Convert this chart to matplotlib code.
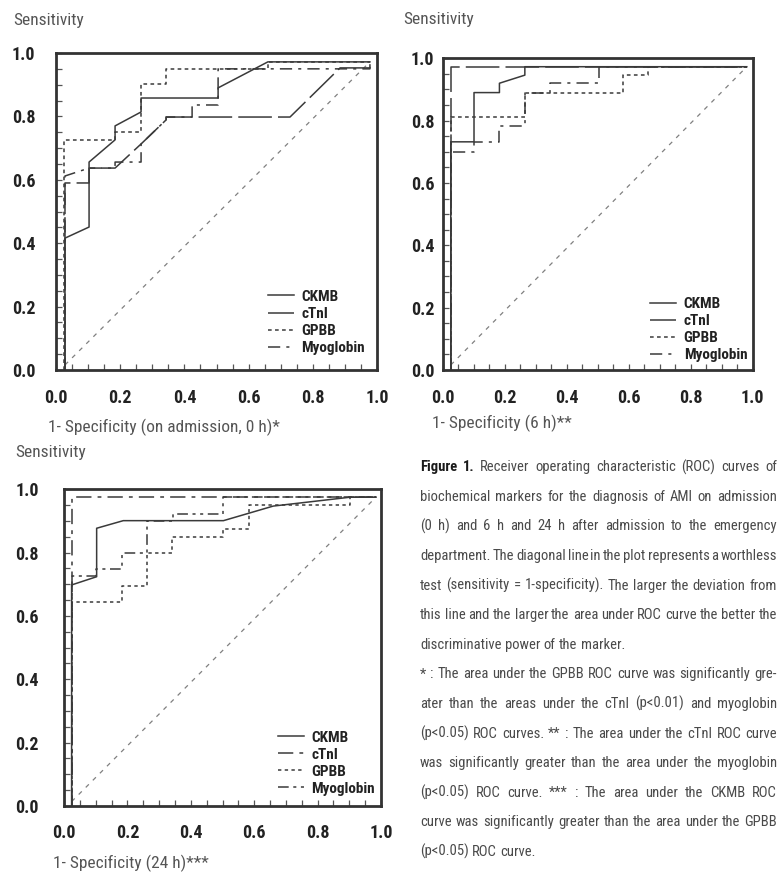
import numpy as np
import matplotlib
matplotlib.use('Agg')
import matplotlib.pyplot as plt
from matplotlib import font_manager

# pick a narrow font if one is installed
_names = {f.name for f in font_manager.fontManager.ttflist}
_cands = ['Liberation Sans Narrow', 'DejaVu Sans Condensed', 'Noto Sans Condensed', 'Roboto Condensed']
NARROW = next((c for c in _cands if c in _names), 'DejaVu Sans')
plt.rcParams['font.family'] = [NARROW, 'DejaVu Sans']
plt.rcParams['font.stretch'] = 'condensed'

# ---- data: 1-specificity (x) and sensitivity (y) ----
# on admission (0 h)
ckmb0_x = [0.028, 0.028, 0.103, 0.103, 0.184, 0.184, 0.265, 0.265, 0.505, 0.505, 0.660, 0.978]
ckmb0_y = [0.0, 0.416, 0.451, 0.656, 0.726, 0.770, 0.814, 0.858, 0.858, 0.890, 0.972, 0.972]
ctni0_x = [0.028, 0.028, 0.103, 0.103, 0.184, 0.265, 0.343, 0.343, 0.729, 0.885, 0.978, 0.978]
ctni0_y = [0.0, 0.590, 0.590, 0.637, 0.637, 0.713, 0.789, 0.798, 0.798, 0.953, 0.953, 0.972]
gpbb0_x = [0.025, 0.025, 0.184, 0.184, 0.265, 0.265, 0.343, 0.343, 0.660, 0.660, 0.978]
gpbb0_y = [0.0, 0.726, 0.726, 0.751, 0.751, 0.902, 0.902, 0.950, 0.950, 0.972, 0.972]
myo0_x = [0.028, 0.028, 0.103, 0.184, 0.184, 0.265, 0.265, 0.343, 0.343, 0.424, 0.424, 0.505, 0.505, 0.978, 0.978]
myo0_y = [0.0, 0.612, 0.637, 0.637, 0.656, 0.656, 0.713, 0.789, 0.798, 0.798, 0.836, 0.836, 0.950, 0.950, 0.972]
diag0_x = [0.028, 0.978]
diag0_y = [0.016, 0.972]

# 6 h
ckmb6_x = [0.026, 0.026, 0.101, 0.101, 0.183, 0.183, 0.265, 0.265, 0.981]
ckmb6_y = [0.0, 0.732, 0.732, 0.890, 0.890, 0.920, 0.946, 0.973, 0.973]
ctni6_x = [0.026, 0.026, 0.981]
ctni6_y = [0.0, 0.973, 0.973]
gpbb6_x = [0.026, 0.026, 0.265, 0.265, 0.581, 0.581, 0.663, 0.663, 0.981]
gpbb6_y = [0.0, 0.813, 0.813, 0.890, 0.890, 0.946, 0.946, 0.973, 0.973]
myo6_x = [0.026, 0.026, 0.101, 0.101, 0.183, 0.183, 0.265, 0.265, 0.346, 0.346, 0.505, 0.505, 0.981]
myo6_y = [0.0, 0.700, 0.700, 0.732, 0.732, 0.783, 0.783, 0.890, 0.890, 0.920, 0.920, 0.973, 0.973]
diag6_x = [0.026, 0.981]
diag6_y = [0.016, 0.973]

# 24 h
ckmb24_x = [0.024, 0.024, 0.103, 0.103, 0.187, 0.503, 0.660, 0.902, 0.984]
ckmb24_y = [0.0, 0.698, 0.724, 0.877, 0.901, 0.901, 0.947, 0.975, 0.975]
ctni24_x = [0.024, 0.024, 0.984]
ctni24_y = [0.0, 0.975, 0.975]
gpbb24_x = [0.024, 0.024, 0.182, 0.182, 0.263, 0.263, 0.340, 0.340, 0.503, 0.503, 0.585, 0.585, 0.902, 0.902, 0.984]
gpbb24_y = [0.0, 0.645, 0.645, 0.695, 0.695, 0.798, 0.798, 0.848, 0.848, 0.874, 0.874, 0.950, 0.950, 0.975, 0.975]
myo24_x = [0.024, 0.024, 0.101, 0.101, 0.182, 0.182, 0.263, 0.263, 0.345, 0.345, 0.503, 0.503, 0.984]
myo24_y = [0.0, 0.726, 0.726, 0.747, 0.747, 0.798, 0.798, 0.901, 0.901, 0.922, 0.922, 0.975, 0.975]
diag24_x = [0.024, 0.986]
diag24_y = [0.014, 0.977]

markers = ['CKMB', 'cTnI', 'GPBB', 'Myoglobin']
tick_vals = [0.0, 0.2, 0.4, 0.6, 0.8, 1.0]
tick_labels = ['0.0', '0.2', '0.4', '0.6', '0.8', '1.0']

caption_lines = [
    "Figure 1. Receiver operating characteristic (ROC) curves of",
    "biochemical markers for the diagnosis of AMI on admission",
    "(0 h) and 6 h and 24 h after admission to the emergency",
    "department. The diagonal line in the plot represents a worthless",
    "test (sensitivity = 1-specificity). The larger the deviation from",
    "this line and the larger the area under ROC curve the better the",
    "discriminative power of the marker.",
    "* : The area under the GPBB ROC curve was significantly gre-",
    "ater than the areas under the cTnI (p<0.01) and myoglobin",
    "(p<0.05) ROC curves. ** : The area under the cTnI ROC curve",
    "was significantly greater than the area under the myoglobin",
    "(p<0.05) ROC curve. *** : The area under the CKMB ROC",
    "curve was significantly greater than the area under the GPBB",
    "(p<0.05) ROC curve.",
]
last_lines = {6, 13}

# ---- figure ----
W, H = 781, 873
fig = plt.figure(figsize=(W / 100, H / 100), dpi=100)
LINE = '#3a3a3a'


def px_axes(l, t, r, b):
    return fig.add_axes([l / W, 1 - b / H, (r - l) / W, (b - t) / H])


styles_a = ['-', (0, (22, 4)), (0, (2.4, 2.2)), (0, (8, 4, 2, 4))]
styles_b = ['-', (0, (10, 4, 2.5, 4)), (0, (2.2, 2.2)), (0, (7, 3, 2, 3, 2, 3))]


def draw_panel(ax, curves, diag, styles, xpad, ypad, leg_xy, ylab_xy, xlab, xlab_xy):
    ax.plot(diag[0], diag[1], color='#808080', lw=0.9, ls=(0, (3.5, 4.5)))
    for (cx, cy), name, ls in zip(curves, markers, styles):
        ax.plot(cx, cy, color=LINE, lw=1.1, ls=ls, label=name)
    ax.set_xlim(0, 1)
    ax.set_ylim(0, 1)
    ax.set_xticks(tick_vals, labels=tick_labels, fontsize=13, fontweight='bold', color='#222222')
    ax.set_yticks(tick_vals, labels=tick_labels, fontsize=13, fontweight='bold', color='#222222')
    ax.set_xticks(np.arange(0, 1.001, 0.05), minor=True)
    ax.set_yticks(np.arange(0, 1.001, 0.05), minor=True)
    ax.tick_params(which='both', direction='in', length=4, width=0.9, color='#555555')
    ax.tick_params(axis='x', which='major', pad=xpad)
    ax.tick_params(axis='y', which='major', pad=ypad)
    for s in ax.spines.values():
        s.set_linewidth(2.0)
        s.set_color('#333333')
    leg = ax.legend(loc='upper left', bbox_to_anchor=leg_xy, frameon=False,
                    handlelength=1.7, handletextpad=0.5, labelspacing=0.2,
                    borderpad=0, borderaxespad=0,
                    prop={'weight': 'bold', 'size': 11})
    for t in leg.get_texts():
        t.set_color('#222222')
    ax.text(ylab_xy[0], ylab_xy[1], 'Sensitivity', transform=ax.transAxes,
            ha='left', va='center', fontsize=12.5, color='#555555')
    ax.text(xlab_xy[0], xlab_xy[1], xlab, transform=ax.transAxes,
            ha='left', va='center', fontsize=12.5, color='#555555')


ax0 = px_axes(56, 53, 377, 370)
draw_panel(ax0, [(ckmb0_x, ckmb0_y), (ctni0_x, ctni0_y), (gpbb0_x, gpbb0_y), (myo0_x, myo0_y)],
           (diag0_x, diag0_y), styles_a, 14, 15, (0.66, 0.253), (-0.134, 1.104),
           '1- Specificity (on admission, 0 h)*', (-0.025, -0.18))

ax6 = px_axes(442.7, 58.3, 752.7, 370)
draw_panel(ax6, [(ckmb6_x, ckmb6_y), (ctni6_x, ctni6_y), (gpbb6_x, gpbb6_y), (myo6_x, myo6_y)],
           (diag6_x, diag6_y), styles_a, 14, 6, (0.669, 0.234), (-0.128, 1.123),
           '1- Specificity (6 h)**', (-0.035, -0.17))

ax24 = px_axes(64, 489.3, 381, 806)
draw_panel(ax24, [(ckmb24_x, ckmb24_y), (ctni24_x, ctni24_y), (gpbb24_x, gpbb24_y), (myo24_x, myo24_y)],
           (diag24_x, diag24_y), styles_b, 13, 18, (0.675, 0.238), (-0.155, 1.115),
           '1- Specificity (24 h)***', (-0.035, -0.18))

# ---- justified caption on the right ----
CAP_L, CAP_R = 420, 777
CAP_Y0, CAP_DY = 466.7, 29.6
renderer = fig.canvas.get_renderer()


def weight_of(i, j):
    return 'bold' if (i == 0 and j < 2) else 'normal'


def measure(size):
    out = []
    for i, line in enumerate(caption_lines):
        ws = []
        for j, w in enumerate(line.split()):
            t = fig.text(0, 0, w, fontsize=size, fontweight=weight_of(i, j))
            ws.append(t.get_window_extent(renderer).width)
            t.remove()
        out.append(ws)
    a = fig.text(0, 0, 'x x', fontsize=size)
    b = fig.text(0, 0, 'xx', fontsize=size)
    sp = a.get_window_extent(renderer).width - b.get_window_extent(renderer).width
    a.remove()
    b.remove()
    return out, sp


base = 11.0
ws_all, sp = measure(base)
# allow the tightest line to use slightly narrower spaces than normal
ratio = min((CAP_R - CAP_L) / (sum(ws) + 0.7 * sp * (len(ws) - 1))
            for i, ws in enumerate(ws_all) if i not in last_lines)
cap_size = min(12.5, base * ratio)
ws_all, sp = measure(cap_size)

for i, line in enumerate(caption_lines):
    words = line.split()
    ws = ws_all[i]
    if i in last_lines or len(words) == 1:
        gap = sp
    else:
        gap = (CAP_R - CAP_L - sum(ws)) / (len(words) - 1)
    x = CAP_L
    yb = CAP_Y0 + i * CAP_DY + 4.5
    for j, w in enumerate(words):
        bold = weight_of(i, j) == 'bold'
        fig.text(x / W, 1 - yb / H, w, fontsize=cap_size, fontweight=weight_of(i, j),
                 color='#1a1a1a' if bold else '#4a4a4a', va='baseline', ha='left')
        x += ws[j] + gap

fig.savefig('out.png', dpi=100)
